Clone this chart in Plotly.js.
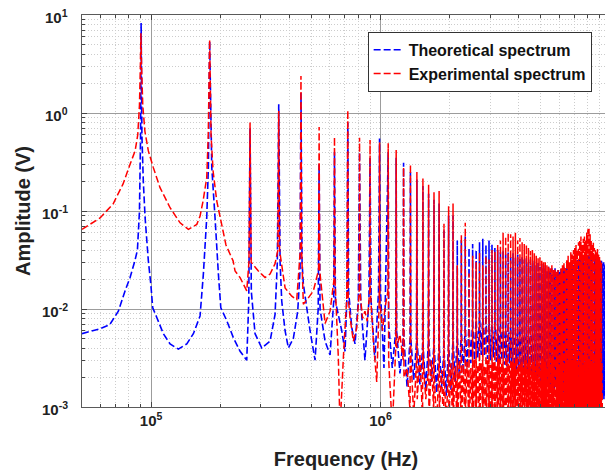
<!DOCTYPE html>
<html><head><meta charset="utf-8">
<script src="https://cdn.plot.ly/plotly-3.0.1.min.js"></script>
<style>html,body{margin:0;padding:0;overflow:hidden;background:#fff}#plot{width:612px;height:470px}</style>
</head><body><div id="plot"></div>
<script>
// ---------- Theoretical spectrum, low-frequency part (Hz, V) ----------
const theoLowFreq = [50000,60000,66000,72000,77000,81000,85000,87200,89000,90000,90500,91200,92500,94200,97300,99700,101700,105900,113100,121000,131500,143100,152900,163500,169000,174800,177700,180000,183900,190000,196500,201300,213700,228300,244300,261200,266500,270000,273500,283900,303600,330000,347000,355000,360000,365000,371100,383700,396600,416900,435700,446000,450000,455000,460900,493000,518400,535000,540000,545000,573100,602600,625000,630000,636000,677600,700400,715000,720000,726000,749000,774200,800000,810000,820000,855000,890000,900000,910000,945000,980000,990000,1000000,1035000];
const theoLowAmp = [0.0056,0.0063,0.0069,0.0095,0.0153,0.021,0.031,0.040,0.10,0.6,8.3,0.6,0.2,0.085,0.031,0.018,0.0103,0.0082,0.0056,0.0044,0.0039,0.0044,0.0056,0.0085,0.0228,0.0855,0.277,5.4,0.277,0.0855,0.0228,0.0103,0.0076,0.0051,0.0037,0.0030,0.012,0.7,0.015,0.0056,0.0040,0.0047,0.0088,0.03,1.23,0.03,0.0120,0.006,0.004,0.005,0.0095,0.025,1.6,0.03,0.018,0.006,0.003,0.010,0.3,0.010,0.0047,0.0034,0.012,0.4,0.012,0.006,0.0037,0.015,0.8,0.015,0.0065,0.0044,0.012,0.4,0.012,0.0030,0.012,0.35,0.012,0.0030,0.015,0.55,0.015,0.0025];

// ---------- Harmonic comb (kHz), harmonics 12..111 ----------
const harmonicKHz = [1080,1170,1260,1350,1440,1530,1620,1710,1800,1890,1980,2070,2160,2250,2340,2430,2520,2610,2700,2790,2880,2970,3060,3150,3240,3330,3420,3510,3600,3690,3780,3870,3960,4050,4140,4230,4320,4410,4500,4590,4680,4770,4860,4950,5040,5130,5220,5310,5400,5490,5580,5670,5760,5850,5940,6030,6120,6210,6300,6390,6480,6570,6660,6750,6840,6930,7020,7110,7200,7290,7380,7470,7560,7650,7740,7830,7920,8010,8100,8190,8280,8370,8460,8550,8640,8730,8820,8910,9000,9090,9180,9270,9360,9450,9540,9630,9720,9810,9900,9990];
// three samples inside each gap between neighbouring harmonics (kHz), gaps 12..110
const gapKHz = [1085,1125,1165,1175,1215,1255,1265,1305,1345,1355,1395,1435,1445,1485,1525,1535,1575,1615,1625,1665,1705,1715,1755,1795,1805,1845,1885,1895,1935,1975,
1985,2025,2065,2075,2115,2155,2165,2205,2245,2255,2295,2335,2345,2385,2425,2435,2475,2515,2525,2565,2605,2615,2655,2695,2705,2745,2785,2795,2835,2875,
2885,2925,2965,2975,3015,3055,3065,3105,3145,3155,3195,3235,3245,3285,3325,3335,3375,3415,3425,3465,3505,3515,3555,3595,3605,3645,3685,3695,3735,3775,
3785,3825,3865,3875,3915,3955,3965,4005,4045,4055,4095,4135,4145,4185,4225,4235,4275,4315,4325,4365,4405,4415,4455,4495,4505,4545,4585,4595,4635,4675,
4685,4725,4765,4775,4815,4855,4865,4905,4945,4955,4995,5035,5045,5085,5125,5135,5175,5215,5225,5265,5305,5315,5355,5395,5405,5445,5485,5495,5535,5575,
5585,5625,5665,5675,5715,5755,5765,5805,5845,5855,5895,5935,5945,5985,6025,6035,6075,6115,6125,6165,6205,6215,6255,6295,6305,6345,6385,6395,6435,6475,
6485,6525,6565,6575,6615,6655,6665,6705,6745,6755,6795,6835,6845,6885,6925,6935,6975,7015,7025,7065,7105,7115,7155,7195,7205,7245,7285,7295,7335,7375,
7385,7425,7465,7475,7515,7555,7565,7605,7645,7655,7695,7735,7745,7785,7825,7835,7875,7915,7925,7965,8005,8015,8055,8095,8105,8145,8185,8195,8235,8275,
8285,8325,8365,8375,8415,8455,8465,8505,8545,8555,8595,8635,8645,8685,8725,8735,8775,8815,8825,8865,8905,8915,8955,8995,9005,9045,9085,9095,9135,9175,
9185,9225,9265,9275,9315,9355,9365,9405,9445,9455,9495,9535,9545,9585,9625,9635,9675,9715,9725,9765,9805,9815,9855,9895,9905,9945,9985];
const theoPeakAmp = [0.40,0.35,0.31,0.25,0.21,0.18,0.15,0.13,0.12,0.065,
0.09,0.09,0.05,0.05,0.055,0.042,0.046,0.04,0.048,0.052,
0.045,0.05,0.046,0.042,0.04,0.038,0.04,0.036,0.038,0.035,
0.037,0.034,0.036,0.033,0.035,0.032,0.033,0.03,0.032,0.03,
0.031,0.028,0.03,0.027,0.029,0.026,0.028,0.025,0.027,0.025,
0.026,0.024,0.026,0.023,0.025,0.024,0.026,0.025,0.027,0.026,
0.028,0.027,0.029,0.028,0.03,0.029,0.031,0.03,0.032,0.031,
0.033,0.032,0.034,0.033,0.035,0.034,0.036,0.035,0.036,0.034,
0.035,0.033,0.034,0.032,0.033,0.031,0.032,0.03,0.031,0.03,
0.031,0.029,0.03,0.028,0.03,0.028,0.029,0.027,0.028,0.027];
const theoGapAmp = [0.007,0.0025,0.006, 0.006,0.0022,0.005, 0.005,0.0016,0.005, 0.005,0.0019,0.0045, 0.0045,0.0017,0.004, 0.004,0.0015,0.0045, 0.0045,0.0018,0.004, 0.004,0.0014,0.004, 0.004,0.0016,0.0035, 0.0035,0.0013,0.004,
0.004,0.0015,0.0045, 0.0045,0.0018,0.005, 0.005,0.002,0.0055, 0.0055,0.0022,0.006, 0.006,0.0025,0.0065, 0.0065,0.0028,0.007, 0.007,0.003,0.0075, 0.0075,0.0032,0.008, 0.008,0.0034,0.008, 0.008,0.0033,0.0075,
0.0075,0.0031,0.007, 0.007,0.003,0.0072, 0.0072,0.0032,0.007, 0.007,0.0029,0.0068, 0.0068,0.0028,0.007, 0.007,0.003,0.0066, 0.0066,0.0027,0.0064, 0.0064,0.0026,0.0066, 0.0066,0.0028,0.0062, 0.0062,0.0025,0.006,
0.006,0.0026,0.0058, 0.0058,0.0024,0.006, 0.006,0.0025,0.0057, 0.0057,0.0023,0.0058, 0.0058,0.0024,0.0055, 0.0055,0.0022,0.0056, 0.0056,0.0023,0.0053, 0.0053,0.0021,0.0054, 0.0054,0.0022,0.0051, 0.0051,0.002,0.005,
0.005,0.0021,0.0049, 0.0049,0.0019,0.005, 0.005,0.002,0.0048, 0.0048,0.0018,0.0049, 0.0049,0.0019,0.0047, 0.0047,0.0017,0.0048, 0.0048,0.0018,0.0046, 0.0046,0.0016,0.0047, 0.0047,0.0017,0.0045, 0.0045,0.0016,0.0046,
0.0046,0.0017,0.0044, 0.0044,0.0015,0.0045, 0.0045,0.0016,0.0043, 0.0043,0.0015,0.0044, 0.0044,0.0016,0.0042, 0.0042,0.0014,0.0043, 0.0043,0.0015,0.0042, 0.0042,0.0014,0.0041, 0.0041,0.0015,0.0042, 0.0042,0.0013,0.004,
0.004,0.0014,0.0041, 0.0041,0.0013,0.004, 0.004,0.0014,0.0039, 0.0039,0.0012,0.004, 0.004,0.0013,0.0039, 0.0039,0.0012,0.004, 0.004,0.0013,0.0039, 0.0039,0.0012,0.004, 0.004,0.0013,0.0039, 0.0039,0.0012,0.004,
0.004,0.0013,0.0039, 0.0039,0.0012,0.004, 0.004,0.0013,0.0039, 0.0039,0.0011,0.0038, 0.0038,0.0012,0.0039, 0.0039,0.0011,0.0038, 0.0038,0.0012,0.0039, 0.0039,0.0011,0.0038, 0.0038,0.0012,0.0039, 0.0039,0.0011,0.0038,
0.0038,0.0012,0.0039, 0.0039,0.0011,0.0038, 0.0038,0.0012,0.0039, 0.0039,0.0011,0.0038, 0.0038,0.0012,0.0039, 0.0039,0.0013,0.004, 0.004,0.0012,0.0039, 0.0039,0.0013,0.004, 0.004,0.0012,0.0039, 0.0039,0.0013,0.004,
0.004,0.0012,0.0039, 0.0039,0.0013,0.004, 0.004,0.0012,0.0039, 0.0039,0.0013,0.004, 0.004,0.0012,0.0039, 0.0039,0.0013,0.004, 0.004,0.0012,0.0039, 0.0039,0.0013,0.004, 0.004,0.0012,0.0039];

// ---------- Experimental spectrum, low-frequency part (Hz, V) ----------
const expLowFreq = [50000,59950,68300,75500,81000,85200,87500,89000,89800,90300,90900,92000,94000,97300,102300,109400,121000,133800,145400,158200,163500,168500,174800,177500,180000,182500,186300,193300,205900,212000,227700,232300,244300,248500,261200,267000,270000,273000,293400,313900,330000,347000,357000,360000,363000,383700,410300,431400,447000,450000,453000,460900,484600,509500,537000,540000,543000,573100,602600,627000,630000,633000,654800,666000,688700,712300,720000,723000,736300,761200,787600,807000,810000,813000,835000,855000,875000,897000,900000,903000,930200,962500,987000,990000,993000,1020000,1046000,1076000];
const expLowAmp = [0.065,0.085,0.118,0.189,0.30,0.41,0.6,1.2,3.0,6.5,3.0,1.2,0.65,0.41,0.277,0.173,0.108,0.0757,0.065,0.073,0.089,0.1265,0.218,0.6,5.6,0.6,0.256,0.1265,0.0625,0.045,0.031,0.0244,0.0209,0.0193,0.0153,0.03,0.80,0.03,0.0244,0.021,0.0227,0.029,0.04,1.05,0.04,0.0164,0.0135,0.0125,0.04,2.39,0.04,0.0112,0.013,0.0153,0.025,0.72,0.025,0.0071,0.0095,0.02,0.57,0.02,0.0032,0.0006,0.0032,0.013,1.07,0.013,0.0082,0.0047,0.0064,0.015,0.56,0.015,0.008,0.0095,0.0075,0.015,0.53,0.015,0.0047,0.0018,0.012,0.50,0.012,0.006,0.0103,0.015];

// ---------- Experimental comb: peaks at harmonics 12..102, three samples per gap ----------
const expPeakAmp = [0.49,0.42,0.28,0.30,0.25,0.215,0.185,0.155,0.16,0.074,
0.112,0.119,0.028,0.058,0.076,0.023,0.035,0.03,0.038,0.028,
0.035,0.032,0.04,0.039,0.045,0.05,0.06,0.055,0.06,0.058,
0.055,0.06,0.05,0.053,0.048,0.046,0.045,0.042,0.039,0.04,
0.037,0.035,0.033,0.034,0.031,0.03,0.03,0.028,0.027,0.026,
0.028,0.025,0.026,0.024,0.025,0.023,0.026,0.028,0.03,0.026,
0.032,0.035,0.03,0.038,0.036,0.04,0.042,0.045,0.04,0.048,
0.05,0.055,0.045,0.052,0.055,0.05,0.06,0.065,0.068,0.058,
0.05,0.045,0.048,0.042,0.04,0.038,0.041,0.036,0.034,0.032,
0.03];
const expGapAmp = [0.003,0.0006,0.004,0.004,0.0055,0.003,0.002,0.0025,0.0009,0.0035,0.0008,0.003,0.0012,0.0035,0.0007,0.0028,0.0012,0.0025,0.0007,0.003,0.0009,0.0022,0.0006,0.0027,0.0009,0.0024,0.0005,0.002,0.0007,0.0026,
0.0006,0.0028,0.0005,0.0007,0.0026,0.0006,0.0005,0.003,0.0007,0.0006,0.0027,0.0005,0.0008,0.0029,0.0006,0.0005,0.0025,0.0007,0.0006,0.0031,0.0005,0.0007,0.0027,0.0006,0.0005,0.0028,0.0008,0.0006,0.0026,0.0005,
0.0007,0.003,0.0006,0.0005,0.0027,0.0005,0.0006,0.0029,0.0007,0.0008,0.0026,0.0005,0.0005,0.0031,0.0006,0.0006,0.0028,0.0007,0.0007,0.0025,0.0005,0.0005,0.003,0.0006,0.0006,0.0027,0.0008,0.0007,0.0029,0.0005,
0.0005,0.0028,0.0006,0.0006,0.0032,0.0005,0.0008,0.0027,0.0007,0.0005,0.0029,0.0006,0.0006,0.0026,0.0005,0.0007,0.003,0.0008,0.0005,0.0028,0.0006,0.0006,0.0031,0.0005,0.0007,0.0027,0.0006,0.0005,0.0029,0.0007,
0.0006,0.0026,0.0005,0.0008,0.003,0.0006,0.0005,0.0028,0.0007,0.0006,0.0027,0.0005,0.0007,0.0031,0.0006,0.0005,0.0029,0.0008,0.0006,0.0025,0.0005,0.0007,0.0028,0.0006,0.0005,0.003,0.0007,0.0006,0.0027,0.0005,
0.0008,0.0029,0.0006,0.0005,0.0026,0.0007,0.0006,0.0031,0.0005,0.0007,0.0028,0.0006,0.0005,0.0027,0.0008,0.0006,0.003,0.0005,0.0007,0.0026,0.0006,0.0005,0.0029,0.0007,0.0006,0.0028,0.0005,0.0008,0.0032,0.0006,
0.0005,0.0027,0.0007,0.0006,0.0029,0.0005,0.0007,0.0026,0.0006,0.0005,0.003,0.0008,0.0006,0.0028,0.0005,0.0007,0.0031,0.0006,0.0005,0.0027,0.0007,0.0006,0.0029,0.0005,0.0008,0.0026,0.0006,0.0005,0.003,0.0007,
0.0006,0.0028,0.0005,0.0007,0.0032,0.0006,0.0005,0.0027,0.0008,0.0006,0.0029,0.0005,0.0007,0.0026,0.0006,0.0005,0.003,0.0007,0.0006,0.0028,0.0005,0.0008,0.0031,0.0006,0.0005,0.0027,0.0007,0.0006,0.0029,0.0005,
0.0007,0.0026,0.0006,0.0005,0.003,0.0008,0.0006,0.0028,0.0005,0.0007,0.0031,0.0006,0.0005,0.0027,0.0007,0.0006,0.0029,0.0005,0.0008,0.0026,0.0006,0.0005,0.003,0.0007,0.0006,0.0028,0.0005,0.0007,0.0027,0.0006,
0.0005,0.0029,0.0006];

// ---------- Axis ticks ----------
const xTickVals = [1e5, 1e6, 1e7];
const xTickText = ['10<sup>5</sup>', '10<sup>6</sup>', '10<sup>7</sup>'];
const yTickVals = [1e-3, 1e-2, 1e-1, 1, 10];
const yTickText = ['10<sup>-3</sup>', '10<sup>-2</sup>', '10<sup>-1</sup>', '10<sup>0</sup>', '10<sup>1</sup>'];

// ---------- assemble series ----------
function combine(lowF, lowA, pF, pA, gF, gA) {
  const x = lowF.slice(), y = lowA.slice();
  for (let i = 0; i < pA.length; i++) {
    x.push(pF[i] * 1000); y.push(pA[i]);
    for (let j = 0; j < 3; j++) {
      const k = i * 3 + j;
      if (k < gA.length) { x.push(gF[k] * 1000); y.push(gA[k]); }
    }
  }
  return {x, y};
}
const theo = combine(theoLowFreq, theoLowAmp, harmonicKHz, theoPeakAmp, gapKHz, theoGapAmp);
const expt = combine(expLowFreq, expLowAmp, harmonicKHz, expPeakAmp, gapKHz, expGapAmp);

const xMinor = [], yMinor = [];
[1e4, 1e5, 1e6].forEach(d => { for (let k = 2; k <= 9; k++) xMinor.push(k * d); });
[1e-3, 1e-2, 1e-1, 1].forEach(d => { for (let k = 2; k <= 9; k++) yMinor.push(k * d); });

const FONT = 'Liberation Sans, Arial, Helvetica, sans-serif';
const tickFont = {family: FONT, size: 15, color: '#222', weight: 'bold'};
const traces = [
  {x: theo.x, y: theo.y, type: 'scatter', mode: 'lines', name: 'Theoretical spectrum',
   line: {color: '#0000ff', width: 1.6, dash: '7px,3px', simplify: false}},
  {x: expt.x, y: expt.y, type: 'scatter', mode: 'lines', name: 'Experimental spectrum',
   line: {color: '#ff0000', width: 1.5, dash: '7px,3px', simplify: false}}
];
// y tick labels placed as right-aligned texts next to the axis
const yLabelAnn = yTickVals.map((v, i) => ({
  xref: 'paper', yref: 'y', x: 0, y: Math.log10(v), xanchor: 'right', yanchor: 'middle',
  xshift: -13, yshift: -1, text: yTickText[i], showarrow: false, font: tickFont, borderpad: 0
}));
const axisCommon = {
  type: 'log', ticks: 'inside', ticklen: 5, tickcolor: '#444', tickwidth: 1,
  showline: true, linecolor: '#5a5a5a', linewidth: 1, mirror: 'ticks',
  showgrid: true, gridcolor: '#9c9c9c', gridwidth: 1, zeroline: false, tickfont: tickFont
};
const minorCommon = {tickmode: 'array', ticks: 'inside', ticklen: 3, tickcolor: '#444',
  showgrid: true, gridcolor: '#cccccc', griddash: '1px,2px', gridwidth: 1};
const layout = {
  width: 612, height: 470,
  margin: {l: 82, r: 2, t: 15, b: 63},
  paper_bgcolor: '#ffffff', plot_bgcolor: '#ffffff',
  showlegend: true,
  legend: {x: 0.541, y: 0.957, xanchor: 'left', yanchor: 'top', bgcolor: '#ffffff',
    bordercolor: '#333', borderwidth: 1, font: {family: FONT, size: 16, color: '#111', weight: 'bold'}},
  annotations: yLabelAnn,
  xaxis: Object.assign({}, axisCommon, {
    range: [Math.log10(5e4), 7], tickmode: 'array', tickvals: xTickVals, ticktext: xTickText,
    title: {text: 'Frequency (Hz)', font: {family: FONT, size: 20, color: '#222', weight: 'bold'}, standoff: 23},
    minor: Object.assign({tickvals: xMinor}, minorCommon)
  }),
  yaxis: Object.assign({}, axisCommon, {
    range: [-3, 1], tickmode: 'array', tickvals: yTickVals, ticktext: yTickText, showticklabels: false,
    title: {text: 'Amplitude (V)', font: {family: FONT, size: 20, color: '#222', weight: 'bold'}, standoff: 45},
    minor: Object.assign({tickvals: yMinor}, minorCommon)
  })
};
Plotly.newPlot('plot', traces, layout, {staticPlot: true, displayModeBar: false});
</script></body></html>
